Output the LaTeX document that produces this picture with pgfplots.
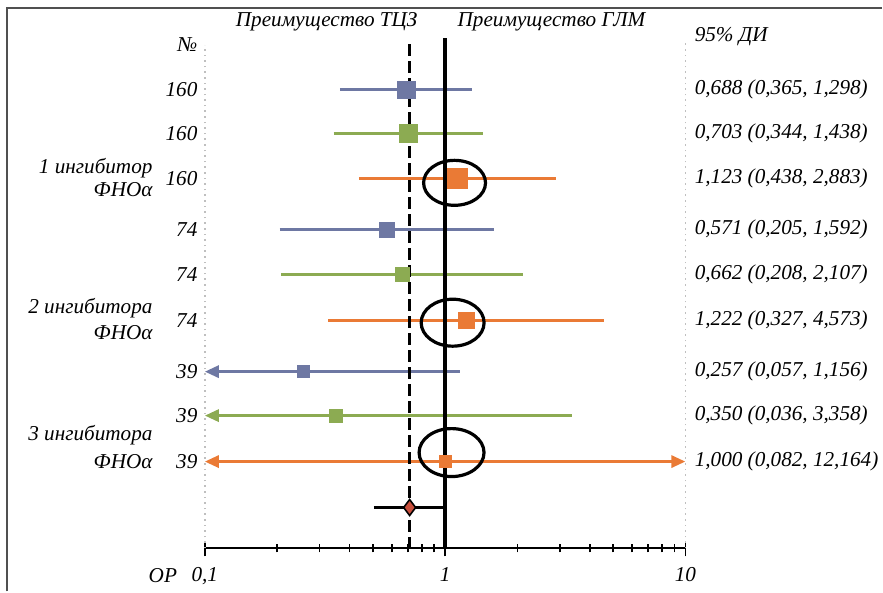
\documentclass[border=0pt]{standalone}
\usepackage{fontspec}
\setmainfont{Liberation Serif}
\usepackage{pgfplots}
\pgfplotsset{compat=1.18}
\usetikzlibrary{arrows.meta}
\definecolor{cblue}{HTML}{6E78A3}
\definecolor{cgreen}{HTML}{8CAB52}
\definecolor{corange}{HTML}{EA7A35}
\definecolor{cred}{HTML}{C9503D}
\definecolor{cframe}{HTML}{505050}

\begin{document}
\begin{tikzpicture}[
  le/.style={anchor=east, inner sep=0pt},
  lw/.style={anchor=west, inner sep=0pt}]
% y of every row = 592 - pixel row of the reference
\begin{axis}[
  at={(0,0)}, anchor=south west,
  scale only axis, width=240.5pt, height=254.5pt,
  xmode=log, xmin=0.1, xmax=10, ymin=43, ymax=552,
  axis x line*=bottom, axis y line=none,
  clip=false,
  xtick={0.1,1,10}, xticklabels={{0,1},1,10},
  minor xtick={0.2,0.3,0.4,0.5,0.6,0.7,0.8,0.9,2,3,4,5,6,7,8,9},
  tick align=center, major tick length=8pt, minor tick length=4pt,
  every tick/.style={black, line width=0.8pt},
  x axis line style={black, line width=1pt},
  xticklabel style={font=\itshape\fontsize{10.6}{12.7}\selectfont, yshift=-2pt},
  font=\itshape\fontsize{10.6}{12.7}\selectfont,
  whisk/.style={line width=1.5pt},
  la/.style={line width=1.5pt, {Triangle[length=7pt,width=6pt]}-},
  ra/.style={line width=1.5pt, -{Triangle[length=7pt,width=6pt]}},
]
% dotted guide lines at the ends of the scale
\addplot[gray!50, dotted, line width=0.8pt] coordinates {(0.1,43) (0.1,547)};
\addplot[gray!50, dotted, line width=0.8pt] coordinates {(10,43) (10,552)};

% 1 TNF inhibitor, n = 160
\addplot[cblue, whisk] coordinates {(0.365,502) (1.298,502)};
\addplot[cblue, only marks, mark=square*, mark size=4.5pt] coordinates {(0.688,502)};
\addplot[cgreen, whisk] coordinates {(0.344,458) (1.438,458)};
\addplot[cgreen, only marks, mark=square*, mark size=4.5pt] coordinates {(0.703,458)};
\addplot[corange, whisk] coordinates {(0.438,413) (2.883,413)};
\addplot[corange, only marks, mark=square*, mark size=5pt] coordinates {(1.123,413)};

% 2 TNF inhibitors, n = 74
\addplot[cblue, whisk] coordinates {(0.205,362) (1.592,362)};
\addplot[cblue, only marks, mark=square*, mark size=3.75pt] coordinates {(0.571,362)};
\addplot[cgreen, whisk] coordinates {(0.208,317) (2.107,317)};
\addplot[cgreen, only marks, mark=square*, mark size=3.5pt] coordinates {(0.662,317)};
\addplot[corange, whisk] coordinates {(0.327,271) (4.573,271)};
\addplot[corange, only marks, mark=square*, mark size=4pt] coordinates {(1.222,271)};

% 3 TNF inhibitors, n = 39 (limits beyond 0.1 / 10 end in arrows)
\addplot[cblue, la] coordinates {(0.1,220) (1.156,220)};
\addplot[cblue, only marks, mark=square*, mark size=3pt] coordinates {(0.257,220)};
\addplot[cgreen, la] coordinates {(0.1,176) (3.358,176)};
\addplot[cgreen, only marks, mark=square*, mark size=3.2pt] coordinates {(0.350,176)};
\addplot[corange, la] coordinates {(0.1,130) (1,130)};
\addplot[corange, ra] coordinates {(1,130) (10,130)};

% pooled estimate
\addplot[black, whisk] coordinates {(0.505,84) (1,84)};

% reference lines
\addplot[black, line width=1.6pt, dash pattern=on 6pt off 2.5pt] coordinates {(0.712,43) (0.712,550)};
\addplot[black, line width=1.6pt] coordinates {(1,43) (1,554)};

\addplot[corange, only marks, mark=square*, mark size=3pt] coordinates {(1.000,130)};
\addplot[mark=diamond*, mark size=4pt, mark options={fill=cred, draw=black, line width=0.8pt}, only marks] coordinates {(0.712,84)};

% highlight ellipses
\draw[line width=1.6pt] (axis cs:1.095,409) ellipse [x radius=15.5pt, y radius=11.25pt];
\draw[line width=1.6pt] (axis cs:1.075,269) ellipse [x radius=15.75pt, y radius=11.75pt];
\draw[line width=1.6pt] (axis cs:1.064,139) ellipse [x radius=16.25pt, y radius=12pt];

% headers
\node at (axis cs:0.3216,570) {Преимущество ТЦЗ};
\node at (axis cs:2.772,570) {Преимущество ГЛМ};
\node[lw] at (axis cs:10.9,555) {95\% ДИ};
\node[le] at (axis cs:0.0935,547) {№};
\node at (axis cs:0.0669,16) {ОР};

% sample sizes
\node[le] at (axis cs:0.0935,502) {160};
\node[le] at (axis cs:0.0935,458) {160};
\node[le] at (axis cs:0.0935,413) {160};
\node[le] at (axis cs:0.0935,362) {74};
\node[le] at (axis cs:0.0935,317) {74};
\node[le] at (axis cs:0.0935,271) {74};
\node[le] at (axis cs:0.0935,220) {39};
\node[le] at (axis cs:0.0935,176) {39};
\node[le] at (axis cs:0.0935,130) {39};

% groups
\node[le] at (axis cs:0.0608,424) {1 ингибитор};
\node[le] at (axis cs:0.0608,402) {ФНОα};
\node[le] at (axis cs:0.0608,284) {2 ингибитора};
\node[le] at (axis cs:0.0608,259) {ФНОα};
\node[le] at (axis cs:0.0608,156) {3 ингибитора};
\node[le] at (axis cs:0.0608,130) {ФНОα};

% odds ratios with 95% CI
\node[lw] at (axis cs:10.9,502) {0,688 (0,365, 1,298)};
\node[lw] at (axis cs:10.9,458) {0,703 (0,344, 1,438)};
\node[lw] at (axis cs:10.9,413) {1,123 (0,438, 2,883)};
\node[lw] at (axis cs:10.9,362) {0,571 (0,205, 1,592)};
\node[lw] at (axis cs:10.9,317) {0,662 (0,208, 2,107)};
\node[lw] at (axis cs:10.9,271) {1,222 (0,327, 4,573)};
\node[lw] at (axis cs:10.9,220) {0,257 (0,057, 1,156)};
\node[lw] at (axis cs:10.9,176) {0,350 (0,036, 3,358)};
\node[lw] at (axis cs:10.9,130) {1,000 (0,082, 12,164)};
\end{axis}
% frame and page size
\draw[cframe, line width=0.8pt] (-99pt,-21.5pt) -- (-99pt,270.5pt) -- (339pt,270.5pt);
\path (-102.5pt,-21.5pt) rectangle (339pt,274.5pt);
\end{tikzpicture}
\end{document}
